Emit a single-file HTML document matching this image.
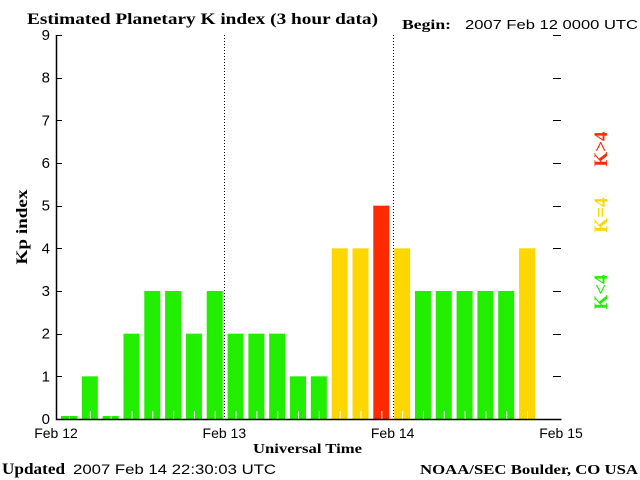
<!DOCTYPE html>
<html><head><meta charset="utf-8"><style>
body{margin:0;background:#fff;width:640px;height:480px;overflow:hidden}
svg{display:block}
</style></head><body>
<svg id="c" width="640" height="480" xmlns="http://www.w3.org/2000/svg">
<text x="27" y="24" textLength="351" lengthAdjust="spacingAndGlyphs" font-family="Liberation Serif,serif" font-weight="bold" font-size="16">Estimated Planetary K index (3 hour data)</text>
<text x="402" y="29" textLength="49" lengthAdjust="spacingAndGlyphs" font-family="Liberation Serif,serif" font-weight="bold" font-size="14">Begin:</text>
<text x="465" y="29" textLength="173" lengthAdjust="spacingAndGlyphs" font-family="Liberation Sans,sans-serif" font-size="13">2007 Feb 12 0000 UTC</text>
<text x="27" y="227" transform="rotate(-90 27 227)" text-anchor="middle" textLength="75" lengthAdjust="spacingAndGlyphs" font-family="Liberation Serif,serif" font-weight="bold" font-size="16">Kp index</text>
<text x="253" y="453" textLength="109" lengthAdjust="spacingAndGlyphs" font-family="Liberation Serif,serif" font-weight="bold" font-size="14">Universal Time</text>
<text x="2" y="474" textLength="63" lengthAdjust="spacingAndGlyphs" font-family="Liberation Serif,serif" font-weight="bold" font-size="16">Updated</text>
<text x="73" y="474" textLength="203" lengthAdjust="spacingAndGlyphs" font-family="Liberation Sans,sans-serif" font-size="14">2007 Feb 14 22:30:03 UTC</text>
<text x="420" y="474" textLength="218" lengthAdjust="spacingAndGlyphs" font-family="Liberation Serif,serif" font-weight="bold" font-size="14">NOAA/SEC Boulder, CO USA</text>
<text x="607" y="149" transform="rotate(-90 607 149)" text-anchor="middle" fill="#ff2a00" font-family="Liberation Serif,serif" font-weight="bold" font-size="19">K&gt;4</text>
<text x="607" y="215" transform="rotate(-90 607 215)" text-anchor="middle" fill="#ffd700" font-family="Liberation Serif,serif" font-weight="bold" font-size="19">K=4</text>
<text x="607" y="292" transform="rotate(-90 607 292)" text-anchor="middle" fill="#22ee00" font-family="Liberation Serif,serif" font-weight="bold" font-size="19">K&lt;4</text>
<g id="plot"></g>
</svg>
<script>
const kpValues=[0,1,0,2,3,3,2,3, 2,2,2,1,1,4,4,5, 4,3,3,3,3,3,4];
const yTicks=[0,1,2,3,4,5,6,7,8,9];
const dayLabels=["Feb 12","Feb 13","Feb 14","Feb 15"];
const X0=56,X1=561,Y0=419,YT=35;
const BAR0=61,PITCH=20.82,BW=16;
const NS="http://www.w3.org/2000/svg";
const g=document.getElementById('plot');
function xd(d){return X0+(X1-X0)*d/3;}
function xb(i){return BAR0+PITCH*i;}
function ys(v){return Y0-(Y0-YT)*v/9;}
function mk(t,a){const e=document.createElementNS(NS,t);for(const k in a)e.setAttribute(k,a[k]);g.appendChild(e);return e;}
kpValues.forEach((v,i)=>{
  const col=v<4?'#22ee00':(v===4?'#ffd700':'#ff2a00');
  const top=v===0?Y0-3:ys(v);
  const r=mk('rect',{x:xb(i),y:top,width:BW,height:Y0-top,fill:col});
  
  
  const t=mk('line',{x1:xb(i)+8.5,x2:xb(i)+8.5,y1:Y0-8,y2:Y0,stroke:'#fff','stroke-width':1});
  
  
});
[1,2].forEach(d=>{
  const l=mk('line',{x1:Math.round(xd(d))+0.5,x2:Math.round(xd(d))+0.5,y1:YT,y2:Y0,stroke:'#000','stroke-dasharray':'1,2'});
  
  
});
const ax=mk('path',{d:`M${X0+0.5},${YT} V${Y0+0.5} H${X1+0.5}`,fill:'none',stroke:'#000','stroke-width':1.5});


yTicks.forEach(v=>{
  const y=Math.round(ys(v))+0.5;
  const tk=mk('line',{x1:X0,x2:X0+6,y1:y,y2:y,stroke:'#000'});
  
  
  const tr=mk('line',{x1:X1-8,x2:X1,y1:y,y2:y,stroke:'#000'});
  
  
  const tx=mk('text',{x:X0-6,y:ys(v)+5,'text-anchor':'end','font-family':'Liberation Sans,sans-serif','font-size':'15'});
  tx.textContent=v;
  
  
});
dayLabels.forEach((s,d)=>{
  const tx=mk('text',{x:xd(d),y:438,'text-anchor':'middle','font-family':'Liberation Sans,sans-serif','font-size':'14'});
  tx.textContent=s;
  
  
});
</script>
</body></html>
